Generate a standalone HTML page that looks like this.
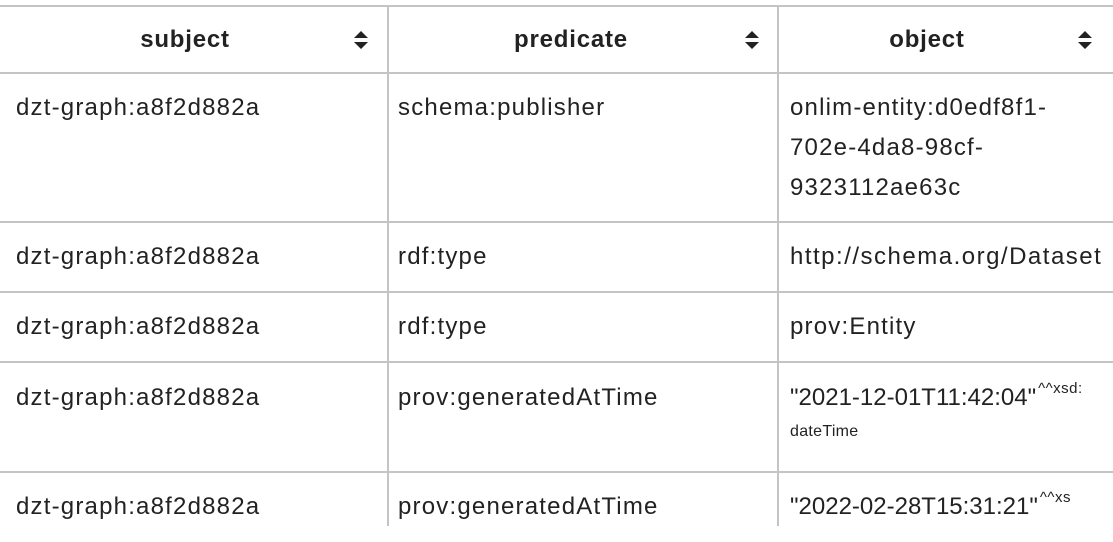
<!DOCTYPE html>
<html><head><meta charset="utf-8">
<style>
html,body{margin:0;padding:0;background:#fff;width:1113px;height:542px;overflow:hidden;font-family:"Liberation Sans",sans-serif;color:#222;}
.h{position:absolute;left:0;width:1113px;height:2px;background:#c4c4c4;}
.v{position:absolute;top:6px;width:2px;height:520px;background:#c4c4c4;}
.t{position:absolute;font-size:24px;letter-spacing:1.2px;line-height:40px;white-space:nowrap;}
.hd{position:absolute;top:20px;font-size:24px;font-weight:bold;letter-spacing:0.8px;line-height:40px;text-align:center;}
.s{position:absolute;top:27px;width:16px;height:26px;}
sup{font-size:15px;letter-spacing:0.5px;vertical-align:0;position:relative;top:-12px;margin-left:2px;}
.sm{font-size:16px;letter-spacing:0.3px;}
</style></head><body>
<div>
<div class="h" style="top:5px"></div>
<div class="h" style="top:72px"></div>
<div class="h" style="top:221px"></div>
<div class="h" style="top:291px"></div>
<div class="h" style="top:361px"></div>
<div class="h" style="top:471px"></div>
<div class="v" style="left:387px"></div>
<div class="v" style="left:777px"></div>

<div class="hd" style="left:0;width:370px">subject</div>
<div class="hd" style="left:389px;width:364px">predicate</div>
<div class="hd" style="left:779px;width:296px">object</div>

<svg class="s" style="left:353px" viewBox="0 0 16 26"><path d="M8 4 L15 11 L1 11 Z M8 22 L15 15 L1 15 Z" fill="#222"/></svg>
<svg class="s" style="left:744px" viewBox="0 0 16 26"><path d="M8 4 L15 11 L1 11 Z M8 22 L15 15 L1 15 Z" fill="#222"/></svg>
<svg class="s" style="left:1077px" viewBox="0 0 16 26"><path d="M8 4 L15 11 L1 11 Z M8 22 L15 15 L1 15 Z" fill="#222"/></svg>

<div class="t" style="left:16px;top:88px">dzt-graph:a8f2d882a</div>
<div class="t" style="left:398px;top:88px">schema:publisher</div>
<div class="t" style="left:790px;top:88px">onlim-entity:d0edf8f1-<br>702e-4da8-98cf-<br>9323112ae63c</div>

<div class="t" style="left:16px;top:237px">dzt-graph:a8f2d882a</div>
<div class="t" style="left:398px;top:237px">rdf:type</div>
<div class="t" style="left:790px;top:237px;letter-spacing:1.5px">http://schema.org/Dataset</div>

<div class="t" style="left:16px;top:307px">dzt-graph:a8f2d882a</div>
<div class="t" style="left:398px;top:307px">rdf:type</div>
<div class="t" style="left:790px;top:307px">prov:Entity</div>

<div class="t" style="left:790px;top:378px;letter-spacing:0px">"2021-12-01T11:42:04"<sup>^^xsd:</sup><br><span class="sm" style="position:relative;top:-12px">dateTime</span></div>
<div class="t" style="left:16px;top:378px">dzt-graph:a8f2d882a</div>
<div class="t" style="left:398px;top:378px">prov:generatedAtTime</div>

<div class="t" style="left:16px;top:487px">dzt-graph:a8f2d882a</div>
<div class="t" style="left:398px;top:487px">prov:generatedAtTime</div>
<div class="t" style="left:790px;top:487px;letter-spacing:0px">"2022-02-28T15:31:21"<sup>^^xs</sup></div>
<div style="position:absolute;left:0;top:526px;width:1113px;height:16px;background:#fff"></div>
</div>
</body></html>
